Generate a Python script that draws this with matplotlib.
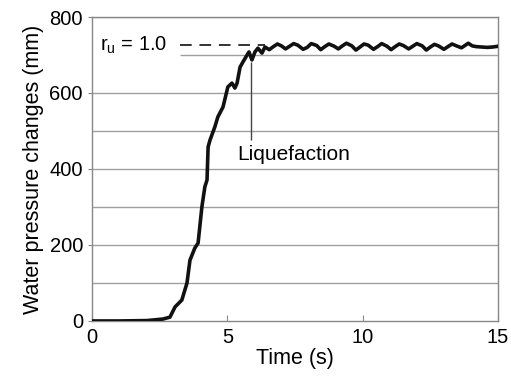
import matplotlib
matplotlib.use("Agg")
import matplotlib.pyplot as plt

plt.rcParams["font.family"] = ["Liberation Sans", "DejaVu Sans"]

# ── Data ──────────────────────────────────────────────────────────────────────
time_s = [0.0, 1.0, 2.03, 2.62, 2.88, 3.07, 3.32, 3.51, 3.62, 3.80, 3.92, 4.06,
          4.17, 4.25, 4.29, 4.36, 4.54, 4.65, 4.84, 5.02, 5.17, 5.28, 5.36, 5.47,
          5.58, 5.73, 5.80, 5.91, 6.02, 6.13, 6.28, 6.39,
          6.55, 6.70, 6.85, 7.00, 7.15, 7.30, 7.45, 7.60, 7.80, 7.95, 8.10, 8.30,
          8.45, 8.60, 8.75, 8.95, 9.10, 9.25, 9.40, 9.60, 9.75, 9.90, 10.05, 10.20,
          10.40, 10.55, 10.70, 10.90, 11.05, 11.20, 11.35, 11.50, 11.70, 11.85,
          12.00, 12.20, 12.35, 12.50, 12.65, 12.80, 13.00, 13.15, 13.30, 13.50,
          13.65, 13.80, 13.90, 14.05, 14.20, 14.40, 14.60, 14.80, 15.0]
pressure_mm = [0, 0, 1, 5, 10, 37, 55, 100, 160, 192, 205, 300,
               353, 371, 458, 476, 511, 537, 563, 616, 626, 613, 626, 668,
               682, 700, 708, 687, 708, 718, 705, 721,
               714, 722, 729, 724, 716, 723, 730, 726, 715, 720, 730, 725,
               714, 722, 729, 723, 716, 724, 731, 724, 713, 721, 729, 726,
               715, 722, 730, 723, 714, 722, 729, 725, 716, 723,
               730, 724, 713, 721, 728, 724, 715, 722, 729, 723,
               719, 726, 731, 724, 722, 721, 720, 721, 723]

grid_levels = [100, 200, 300, 400, 500, 600, 800]
ru_level = 726
ru_span = [3.25, 6.4]
grid700_span = [3.25, 15]
liq_time = 5.86
liq_span = [476, 681]

# ── Figure ────────────────────────────────────────────────────────────────────
fig = plt.figure(figsize=(5.11, 3.83), dpi=100)
ax = fig.add_axes([0.18, 0.162, 0.7946, 0.7936])

for lv in grid_levels:
    ax.axhline(lv, color="#a0a0a0", linewidth=1.0, zorder=1)
ax.hlines(700, grid700_span[0], grid700_span[1], color="#a0a0a0", linewidth=1.0, zorder=1)

ax.plot(time_s, pressure_mm, color="#111111", linewidth=2.6, zorder=3)

ax.hlines(ru_level, ru_span[0], ru_span[1], color="#333333", linewidth=1.4,
          linestyles=(0, (6, 4)), zorder=2)
ax.vlines(liq_time, liq_span[0], liq_span[1], color="#444444", linewidth=1.0, zorder=2)

ax.text(0.3, ru_level, r"r$_\mathregular{u}$ = 1.0", fontsize=14.5, va="center", ha="left")
ax.text(5.35, 437, "Liquefaction", fontsize=15, va="center", ha="left")

ax.set_xlim(0, 15)
ax.set_ylim(0, 800)
ax.set_xticks([0, 5, 10, 15])
ax.set_yticks([0, 200, 400, 600, 800])
ax.tick_params(axis="x", direction="in", length=4, color="#888888", labelsize=14.5, pad=5)
ax.tick_params(axis="y", direction="out", length=3, color="#888888", labelsize=14.5)
for sp in ax.spines.values():
    sp.set_color("#888888")
    sp.set_linewidth(1.0)

ax.set_xlabel("Time (s)", fontsize=15.5, labelpad=1)
ax.set_ylabel("Water pressure changes (mm)", fontsize=15.5, labelpad=4)

fig.savefig("out.png", dpi=100)
